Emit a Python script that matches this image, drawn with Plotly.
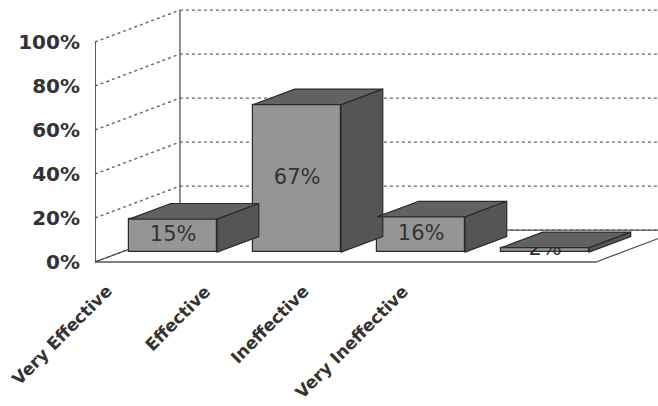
import plotly.graph_objects as go

categories = ["Very Effective", "Effective", "Ineffective", "Very Ineffective"]
values = [15, 67, 16, 2]
y_ticks = [0, 20, 40, 60, 80, 100]
y_tick_labels = ["0%", "20%", "40%", "60%", "80%", "100%"]

# pseudo-3D projection parameters (axis units)
KX, KY = 0.685, 14.5        # full depth offset
ZF, ZB = 0.31, 0.80         # bar front/back depth
BAR_W = 0.71
X_LEFT, X_RIGHT = -0.433, 4.108
Y_LOW, Y_HIGH = -65.45, 119.09
FLOOR_RIGHT = 3.607

def proj(x, y, z):
    return x + z * KX, y + z * KY

fig = go.Figure()

n = len(categories)
cx = [i + ZF * KX - 0.015 for i in range(n)]
base = ZF * KY

fig.add_trace(go.Bar(
    x=cx, y=values, base=[base] * n, width=BAR_W,
    marker=dict(color="#959595", line=dict(color="#2a2a2a", width=1.2)),
    hoverinfo="skip", showlegend=False,
))
fig.add_trace(go.Scatter(
    x=cx, y=[base + v / 2 for v in values],
    text=[f"{v}%" for v in values], mode="text",
    textfont=dict(family="DejaVu Sans", size=21, color="#333333"),
    hoverinfo="skip", showlegend=False,
))

shapes = []
grid = dict(color="#666666", width=1.4, dash="dot")
# left wall diagonals and back wall lines
for t in y_ticks:
    x0, y0 = X_LEFT, t
    x1, y1 = proj(X_LEFT, t, 1)
    shapes.append(dict(type="line", x0=x0, y0=y0, x1=x1, y1=y1, line=grid, layer="below"))
    shapes.append(dict(type="line", x0=x1, y0=y1, x1=X_RIGHT + 1, y1=y1, line=grid, layer="below"))
bx, by0 = proj(X_LEFT, 0, 1)
shapes.append(dict(type="line", x0=bx, y0=by0, x1=bx, y1=by0 + 100,
                   line=dict(color="#555555", width=1.3), layer="below"))
# floor
fx1, fy1 = proj(FLOOR_RIGHT, 0, 1)
shapes.append(dict(type="path",
                   path=f"M {X_LEFT},0 L {FLOOR_RIGHT},0 L {fx1},{fy1} L {bx},{by0} Z",
                   fillcolor="rgba(255,255,255,0)", line=dict(color="#555555", width=1.3),
                   layer="below"))
# y axis line
shapes.append(dict(type="line", x0=X_LEFT, y0=0, x1=X_LEFT, y1=100,
                   line=dict(color="#333333", width=1.6), layer="below"))

# bar tops and sides
dzx = (ZB - ZF) * KX
dzy = (ZB - ZF) * KY
for c, v in zip(cx, values):
    xl, xr = c - BAR_W / 2, c + BAR_W / 2
    top = base + v
    shapes.append(dict(type="path",
                       path=f"M {xl},{top} L {xr},{top} L {xr+dzx},{top+dzy} L {xl+dzx},{top+dzy} Z",
                       fillcolor="#626262", line=dict(color="#2a2a2a", width=1.2), layer="above"))
    shapes.append(dict(type="path",
                       path=f"M {xr},{base} L {xr},{top} L {xr+dzx},{top+dzy} L {xr+dzx},{base+dzy} Z",
                       fillcolor="#555555", line=dict(color="#2a2a2a", width=1.2), layer="above"))

annotations = []
LABEL_U0, LABEL_STEP, LABEL_Y = -0.24, 0.795, -7.5
for i, cat in enumerate(categories):
    annotations.append(dict(
        x=LABEL_U0 + i * LABEL_STEP, y=LABEL_Y, xref="x", yref="y",
        text=cat, showarrow=False, textangle=-45,
        xanchor="right", yanchor="top",
        font=dict(family="DejaVu Sans", size=17, color="#333333", weight="bold"),
    ))

fig.update_layout(
    width=658, height=406,
    margin=dict(l=95, r=0, t=0, b=0),
    paper_bgcolor="white", plot_bgcolor="white",
    shapes=shapes, annotations=annotations,
    xaxis=dict(range=[X_LEFT, X_RIGHT], visible=False),
    yaxis=dict(range=[Y_LOW, Y_HIGH], tickvals=y_ticks, ticktext=y_tick_labels,
               showgrid=False, zeroline=False, showline=False, ticks="",
               ticklabelstandoff=14,
               tickfont=dict(family="DejaVu Sans", size=20, color="#333333", weight="bold")),
    bargap=0,
)

fig.write_html("out.html")
